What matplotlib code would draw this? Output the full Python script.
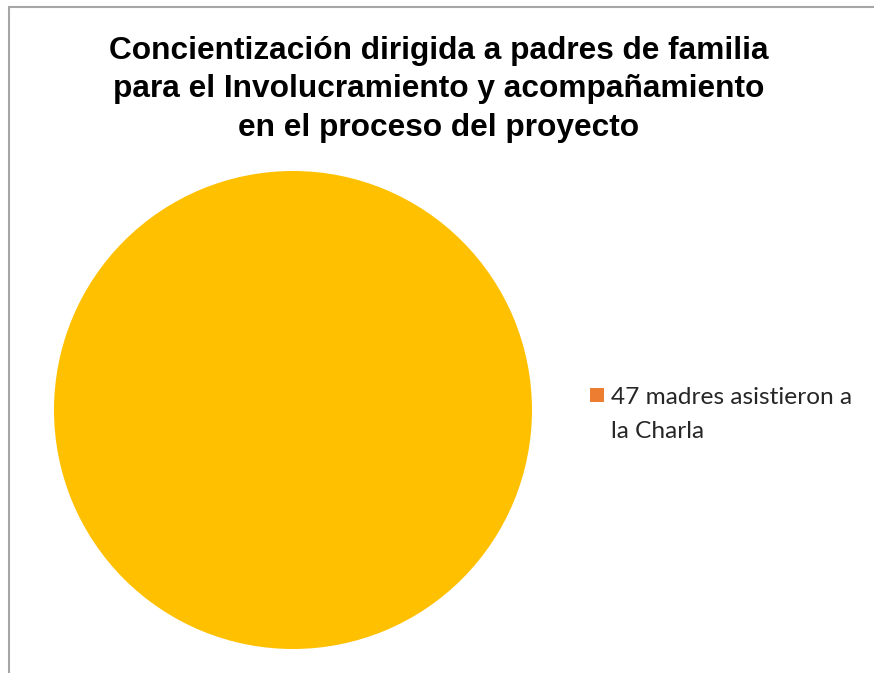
import matplotlib
matplotlib.use('Agg')
import matplotlib.pyplot as plt
from matplotlib.patches import Rectangle

plt.rcParams['font.family'] = 'Liberation Sans'

# chart data
labels = ['47 madres asistieron a\nla Charla']
values = [47]
pie_colors = ['#FFC000']
legend_colors = ['#ED7D31']
title = 'Concientización dirigida a padres de familia\npara el Involucramiento y acompañamiento\nen el proceso del proyecto'

W, H = 874, 673
fig = plt.figure(figsize=(W / 100, H / 100), dpi=100)
fig.patch.set_facecolor('white')

# chart border (cropped at right/bottom)
fig.add_artist(Rectangle((9 / W, -0.1), 1.2, 1.1 - 7 / H, transform=fig.transFigure,
                         fill=False, edgecolor='#A6A6A6', linewidth=1.5))

ax = fig.add_axes([54 / W, (H - 649) / H, 478 / W, 478 / H])
ax.pie(values, colors=pie_colors, startangle=90, counterclock=False,
       wedgeprops=dict(linewidth=0))
ax.set_xlim(-1, 1)
ax.set_ylim(-1, 1)
ax.set_aspect('equal')

fig.text(0.502, 1 - 36 / H, title, ha='center', va='top', fontsize=22.8,
         fontweight='bold', linespacing=1.36, color='black')

# legend: marker aligned with first line of the label
for i, (lab, c) in enumerate(zip(labels, legend_colors)):
    fig.add_artist(Rectangle((590 / W, 1 - 402 / H), 14 / W, 14 / H,
                             transform=fig.transFigure, facecolor=c, edgecolor='none'))
    fig.text(611 / W, 1 - 387 / H, lab, ha='left', va='top', fontsize=17.6,
             family='Lato', color='#262626', linespacing=1.75)

fig.savefig('out.png', dpi=100)
